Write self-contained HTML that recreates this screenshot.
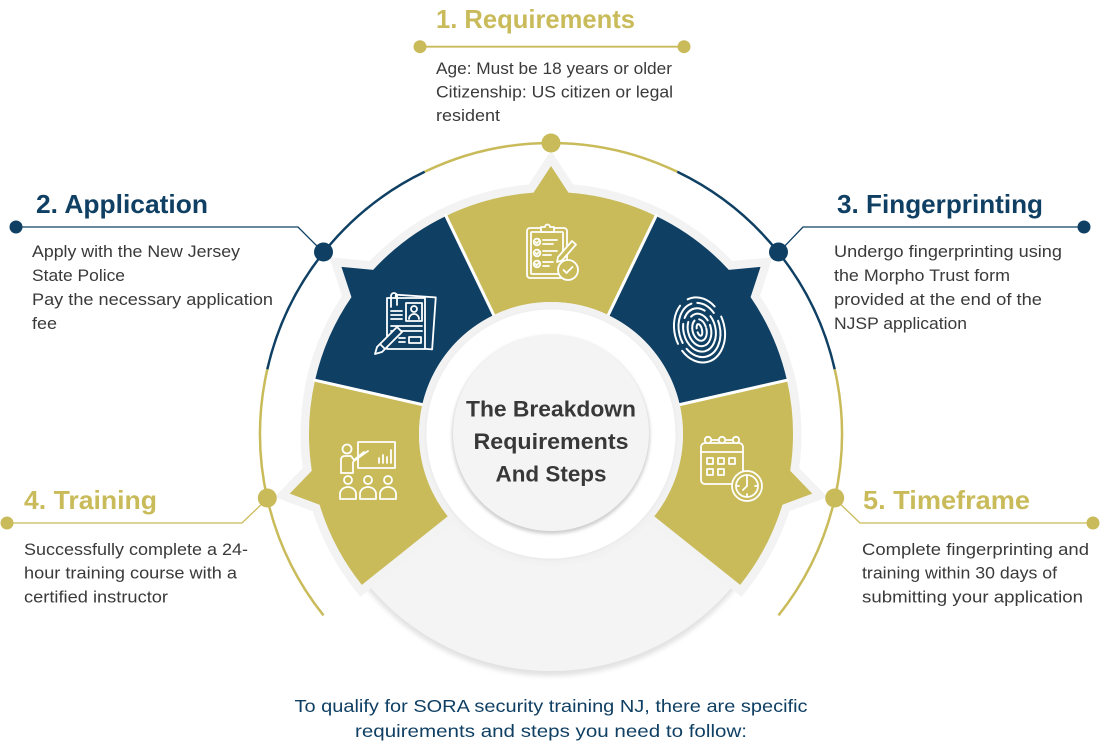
<!DOCTYPE html>
<html>
<head>
<meta charset="utf-8">
<style>
html,body{margin:0;padding:0;background:#fff;}
svg{display:block}
</style>
</head>
<body>
<svg width="1101" height="753" viewBox="0 0 1101 753" xmlns="http://www.w3.org/2000/svg" font-family="'Liberation Sans', Arial, sans-serif">
  <defs>
    <filter id="sh" x="-10%" y="-10%" width="120%" height="120%">
      <feGaussianBlur stdDeviation="2.5"/>
    </filter>
    <filter id="sh2" x="-10%" y="-10%" width="120%" height="120%">
      <feGaussianBlur stdDeviation="1.6"/>
    </filter>
  </defs>
  <rect width="1101" height="753" fill="#fff"/>

  <!-- bottom grey disc with shadow -->
  <circle cx="551" cy="438" r="238" fill="#e2e2e2" filter="url(#sh)"/>
  <circle cx="551" cy="434" r="237" fill="#f4f4f4"/>

  <!-- grey borders around segments -->
  <g fill="#f3f3f3" stroke="#f3f3f3" stroke-width="17" stroke-linejoin="miter" stroke-miterlimit="4">
    <path d="M493.73,315.07 L446.0,215.97 A242,242 0 0,1 533.57,192.63 L551,166 L568.43,192.63 A242,242 0 0,1 656.0,215.97 L608.27,315.07 A132,132 0 0,0 493.73,315.07 Z"/>
    <path d="M493.73,315.07 L446.0,215.97 A242,242 0 0,1 533.57,192.63 L551,166 L568.43,192.63 A242,242 0 0,1 656.0,215.97 L608.27,315.07 A132,132 0 0,0 493.73,315.07 Z" transform="rotate(51.43 551 434)"/>
    <path d="M493.73,315.07 L446.0,215.97 A242,242 0 0,1 533.57,192.63 L551,166 L568.43,192.63 A242,242 0 0,1 656.0,215.97 L608.27,315.07 A132,132 0 0,0 493.73,315.07 Z" transform="rotate(-51.43 551 434)"/>
    <path d="M493.73,315.07 L446.0,215.97 A242,242 0 0,1 533.57,192.63 L551,166 L568.43,192.63 A242,242 0 0,1 656.0,215.97 L608.27,315.07 A132,132 0 0,0 493.73,315.07 Z" transform="rotate(102.86 551 434)"/>
    <path d="M493.73,315.07 L446.0,215.97 A242,242 0 0,1 533.57,192.63 L551,166 L568.43,192.63 A242,242 0 0,1 656.0,215.97 L608.27,315.07 A132,132 0 0,0 493.73,315.07 Z" transform="rotate(-102.86 551 434)"/>
  </g>

  <!-- segment fills -->
  <path d="M493.73,315.07 L446.0,215.97 A242,242 0 0,1 533.57,192.63 L551,166 L568.43,192.63 A242,242 0 0,1 656.0,215.97 L608.27,315.07 A132,132 0 0,0 493.73,315.07 Z" fill="#c9bb5a"/>
  <path d="M493.73,315.07 L446.0,215.97 A242,242 0 0,1 533.57,192.63 L551,166 L568.43,192.63 A242,242 0 0,1 656.0,215.97 L608.27,315.07 A132,132 0 0,0 493.73,315.07 Z" fill="#0f4064" transform="rotate(51.43 551 434)"/>
  <path d="M493.73,315.07 L446.0,215.97 A242,242 0 0,1 533.57,192.63 L551,166 L568.43,192.63 A242,242 0 0,1 656.0,215.97 L608.27,315.07 A132,132 0 0,0 493.73,315.07 Z" fill="#0f4064" transform="rotate(-51.43 551 434)"/>
  <path d="M493.73,315.07 L446.0,215.97 A242,242 0 0,1 533.57,192.63 L551,166 L568.43,192.63 A242,242 0 0,1 656.0,215.97 L608.27,315.07 A132,132 0 0,0 493.73,315.07 Z" fill="#c9bb5a" transform="rotate(102.86 551 434)"/>
  <path d="M493.73,315.07 L446.0,215.97 A242,242 0 0,1 533.57,192.63 L551,166 L568.43,192.63 A242,242 0 0,1 656.0,215.97 L608.27,315.07 A132,132 0 0,0 493.73,315.07 Z" fill="#c9bb5a" transform="rotate(-102.86 551 434)"/>

  <!-- white separators -->
  <g stroke="#fff" stroke-width="3">
    <line x1="606.5" y1="318.7" x2="656.8" y2="214.3"/>
    <line x1="495.5" y1="318.7" x2="445.2" y2="214.3"/>
    <line x1="675.8" y1="405.5" x2="788.8" y2="379.8"/>
    <line x1="426.2" y1="405.5" x2="313.2" y2="379.8"/>
  </g>

  <!-- central rings -->
  <circle cx="551" cy="434" r="132" fill="#f2f2f2"/>
  <circle cx="551" cy="435" r="125" fill="#e9e9e9" filter="url(#sh2)"/>
  <circle cx="551" cy="434" r="124.5" fill="#ffffff"/>
  <circle cx="551" cy="435" r="99" fill="#cfcfcf" filter="url(#sh2)"/>
  <circle cx="551" cy="433" r="98" fill="#f4f4f4"/>

  <g font-weight="bold" fill="#383838" font-size="22.5" text-anchor="middle">
    <text x="551" y="416.5" textLength="170" lengthAdjust="spacingAndGlyphs">The Breakdown</text>
    <text x="551" y="449" textLength="155" lengthAdjust="spacingAndGlyphs">Requirements</text>
    <text x="551" y="481.5" textLength="111" lengthAdjust="spacingAndGlyphs">And Steps</text>
  </g>

  <!-- outer arc -->
  <g fill="none" stroke-width="2.5">
    <path d="M323.5,615.4 A291,291 0 0,1 267.3,369.3" stroke="#c9bb5a"/>
    <path d="M267.3,369.3 A291,291 0 0,1 424.7,171.8" stroke="#0f4064"/>
    <path d="M424.7,171.8 A291,291 0 0,1 677.3,171.8" stroke="#c9bb5a"/>
    <path d="M677.3,171.8 A291,291 0 0,1 834.7,369.3" stroke="#0f4064"/>
    <path d="M834.7,369.3 A291,291 0 0,1 778.5,615.4" stroke="#c9bb5a"/>
  </g>

  <!-- connectors -->
  <g fill="none" stroke-width="1.3">
    <path d="M420,46.7 H684" stroke="#c9bb5a" stroke-width="1.8"/>
    <path d="M16,227 H298 L323.5,252.6" stroke="#0f4064"/>
    <path d="M1083,227 H803 L778.5,252.6" stroke="#0f4064"/>
    <path d="M7,523 H242 L267.3,498.7" stroke="#c9bb5a"/>
    <path d="M1093,523 H860 L834.7,498.7" stroke="#c9bb5a"/>
  </g>
  <!-- dots -->
  <circle cx="420" cy="46.7" r="6.5" fill="#c9bb5a"/>
  <circle cx="684" cy="46.7" r="6.5" fill="#c9bb5a"/>
  <circle cx="551" cy="143" r="9.5" fill="#c9bb5a"/>
  <circle cx="323.5" cy="252" r="9.5" fill="#0f4064"/>
  <circle cx="778.5" cy="252" r="9.5" fill="#0f4064"/>
  <circle cx="267.3" cy="498" r="9.5" fill="#c9bb5a"/>
  <circle cx="834.7" cy="498" r="9.5" fill="#c9bb5a"/>
  <circle cx="16" cy="227" r="6.5" fill="#0f4064"/>
  <circle cx="1084" cy="227" r="6.5" fill="#0f4064"/>
  <circle cx="7" cy="523" r="6.5" fill="#c9bb5a"/>
  <circle cx="1093" cy="523" r="6.5" fill="#c9bb5a"/>

  <!-- titles -->
  <g font-weight="bold" font-size="26">
    <text x="436" y="28" fill="#c9bb5a" textLength="199" lengthAdjust="spacingAndGlyphs">1. Requirements</text>
    <text x="36" y="213" fill="#0f3f63" textLength="172" lengthAdjust="spacingAndGlyphs">2. Application</text>
    <text x="837" y="213" fill="#0f3f63" textLength="206" lengthAdjust="spacingAndGlyphs">3. Fingerprinting</text>
    <text x="24" y="509" fill="#c9bb5a" textLength="133" lengthAdjust="spacingAndGlyphs">4. Training</text>
    <text x="863" y="509" fill="#c9bb5a" textLength="167" lengthAdjust="spacingAndGlyphs">5. Timeframe</text>
  </g>

  <!-- body text -->
  <g font-size="16.5" fill="#3a3a3a">
    <text x="436" y="74" textLength="236" lengthAdjust="spacingAndGlyphs">Age: Must be 18 years or older</text>
    <text x="436" y="97.5" textLength="237" lengthAdjust="spacingAndGlyphs">Citizenship: US citizen or legal</text>
    <text x="436" y="121" textLength="64" lengthAdjust="spacingAndGlyphs">resident</text>

    <text x="32" y="257" textLength="208" lengthAdjust="spacingAndGlyphs">Apply with the New Jersey</text>
    <text x="32" y="281" textLength="93" lengthAdjust="spacingAndGlyphs">State Police</text>
    <text x="32" y="305" textLength="241" lengthAdjust="spacingAndGlyphs">Pay the necessary application</text>
    <text x="32" y="329" textLength="25" lengthAdjust="spacingAndGlyphs">fee</text>

    <text x="834" y="257" textLength="228" lengthAdjust="spacingAndGlyphs">Undergo fingerprinting using</text>
    <text x="834" y="281" textLength="176" lengthAdjust="spacingAndGlyphs">the Morpho Trust form</text>
    <text x="834" y="305" textLength="208" lengthAdjust="spacingAndGlyphs">provided at the end of the</text>
    <text x="834" y="329" textLength="133" lengthAdjust="spacingAndGlyphs">NJSP application</text>

    <text x="24" y="555" textLength="224" lengthAdjust="spacingAndGlyphs">Successfully complete a 24-</text>
    <text x="24" y="578.5" textLength="213" lengthAdjust="spacingAndGlyphs">hour training course with a</text>
    <text x="24" y="602.5" textLength="144" lengthAdjust="spacingAndGlyphs">certified instructor</text>

    <text x="862" y="555" textLength="227" lengthAdjust="spacingAndGlyphs">Complete fingerprinting and</text>
    <text x="862" y="578.5" textLength="195" lengthAdjust="spacingAndGlyphs">training within 30 days of</text>
    <text x="862" y="602.5" textLength="221" lengthAdjust="spacingAndGlyphs">submitting your application</text>
  </g>

  <!-- bottom text -->
  <g font-size="17.5" fill="#0f3f63" text-anchor="middle">
    <text x="551" y="712" textLength="513" lengthAdjust="spacingAndGlyphs">To qualify for SORA security training NJ, there are specific</text>
    <text x="551" y="737" textLength="392" lengthAdjust="spacingAndGlyphs">requirements and steps you need to follow:</text>
  </g>

  <!-- ICONS -->
  <!-- clipboard -->
  <g fill="none" stroke="#fff" stroke-width="1.8" stroke-linecap="round" stroke-linejoin="round">
    <rect x="527" y="228" width="40" height="50" rx="3"/>
    <rect x="531" y="232" width="32" height="42" rx="1"/>
    <path d="M541,232 v-5 h4 a2.5,2.5 0 0 1 5,0 h4 v5 z" fill="#c9bb5a"/>
    <circle cx="537" cy="242" r="3.3"/>
    <circle cx="537" cy="253" r="3.3"/>
    <circle cx="537" cy="264" r="3.3"/>
    <path d="M535.5,242 l1.2,1.2 l2.3,-2.3 M535.5,253 l1.2,1.2 l2.3,-2.3 M535.5,264 l1.2,1.2 l2.3,-2.3"/>
    <path d="M543,240 h14 M543,244 h10 M543,251 h14 M543,255 h8 M543,262 h10 M543,266 h6"/>
    <path d="M558,257 l14,-16 l4,3.5 l-14,16 l-5,1.5 z" fill="#c9bb5a"/>
    <circle cx="568" cy="270" r="10" fill="#c9bb5a"/>
    <path d="M563.5,270 l3,3 l6,-6"/>
  </g>

  <!-- application document -->
  <g fill="none" stroke="#fff" stroke-width="1.8" stroke-linecap="round" stroke-linejoin="round">
    <rect x="394" y="296" width="40" height="52" transform="rotate(4 414 322)" fill="#0f4064"/>
    <rect x="387" y="298" width="38" height="51" fill="#0f4064"/>
    <path d="M391,307 v-11 a3,3 0 0 1 6,0 v9"/>
    <rect x="406" y="303" width="16" height="18"/>
    <circle cx="414" cy="309" r="3"/>
    <path d="M409,319 a5,5 0 0 1 10,0"/>
    <path d="M391,311 h11 M391,315 h11 M391,319 h11 M391,326 h31 M391,331 h31"/>
    <rect x="409" y="337" width="12" height="6"/>
    <path d="M399,338 h6 M399,342 h6"/>
    <path d="M377,347 l20,-20 l5,5 l-20,20 l-7,2 z" fill="#0f4064"/>
    <path d="M380,344 l5,5"/>
  </g>

  <!-- fingerprint -->
  <g fill="none" stroke="#fff" stroke-width="2" stroke-linecap="round" transform="rotate(-14 699 328)">
    <ellipse cx="699" cy="330" rx="2.5" ry="6" stroke-dasharray="12 4"/>
    <ellipse cx="699" cy="330" rx="7" ry="11" stroke-dasharray="40 5 10 4"/>
    <ellipse cx="699" cy="330" rx="11.5" ry="16.5" stroke-dasharray="55 6 20 5"/>
    <ellipse cx="699" cy="330" rx="16" ry="22" stroke-dasharray="70 6 25 8"/>
    <ellipse cx="699" cy="330" rx="20.5" ry="27.5" stroke-dasharray="60 7 45 6 20 9"/>
    <ellipse cx="699" cy="330" rx="25" ry="33" stroke-dasharray="75 8 40 10 30 12"/>
  </g>

  <!-- training -->
  <g fill="none" stroke="#fff" stroke-width="1.8" stroke-linecap="round" stroke-linejoin="round">
    <rect x="358" y="442" width="37" height="26"/>
    <path d="M379,463 v-5 M383,463 v-8 M387,463 v-6 M391,463 v-13"/>
    <circle cx="347" cy="449" r="4.5"/>
    <path d="M341,473 v-13 q0,-4 4,-4 h6 l3,4 l10,-8"/>
    <path d="M353,462 v11 M341,473 h12 M354,461 l14,-10"/>
    <circle cx="348" cy="480" r="4"/>
    <circle cx="368" cy="480" r="4"/>
    <circle cx="388" cy="480" r="4"/>
    <path d="M340,499 v-5 a8,7 0 0 1 16,0 v5 z"/>
    <path d="M360,499 v-5 a8,7 0 0 1 16,0 v5 z"/>
    <path d="M380,499 v-5 a8,7 0 0 1 16,0 v5 z"/>
  </g>

  <!-- calendar + clock -->
  <g fill="none" stroke="#fff" stroke-width="1.8" stroke-linecap="round" stroke-linejoin="round">
    <rect x="701" y="443" width="42" height="41" rx="4"/>
    <path d="M708,440 h28"/>
    <circle cx="708" cy="440" r="3.2" fill="#c9bb5a"/>
    <circle cx="722" cy="440" r="3.2" fill="#c9bb5a"/>
    <circle cx="736" cy="440" r="3.2" fill="#c9bb5a"/>
    <path d="M701,452 h42"/>
    <rect x="707" y="458" width="6" height="6"/>
    <rect x="718" y="458" width="6" height="6"/>
    <rect x="729" y="458" width="6" height="6"/>
    <rect x="707" y="469" width="6" height="6"/>
    <rect x="718" y="469" width="6" height="6"/>
    <circle cx="747" cy="486" r="15" fill="#c9bb5a"/>
    <circle cx="747" cy="486" r="11"/>
    <path d="M747,486 v-7 M747,486 l-4,4 M747,476.5 v1.5 M747,494 v1.5 M737.5,486 h1.5 M755,486 h1.5"/>
  </g>
</svg>
</body>
</html>
